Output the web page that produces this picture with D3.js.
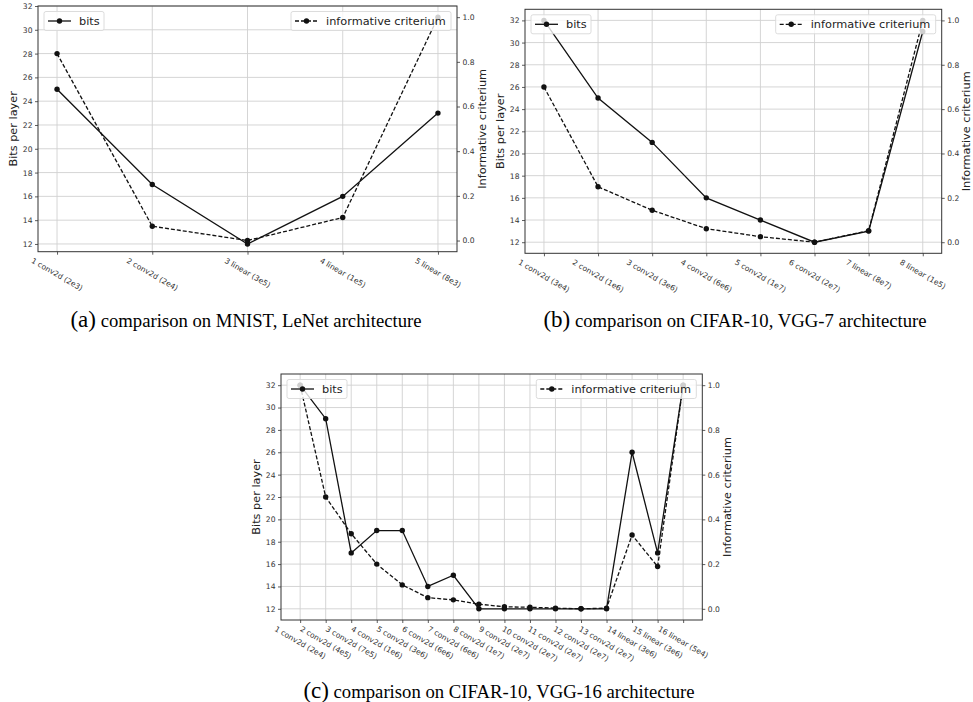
<!DOCTYPE html>
<html>
<head>
<meta charset="utf-8">
<script src="https://cdn.jsdelivr.net/npm/d3@7"></script>
<style>
  body { margin: 0; background: #fff; }
  svg { display: block; }
</style>
</head>
<body>
<div id="chart"></div>
<script>
// values
var labelsA = ["1 conv2d (2e3)", "2 conv2d (2e4)", "3 linear (3e5)", "4 linear (1e5)", "5 linear (8e3)"];
var bitsA = [25, 17, 12, 16, 23];
var critA = [0.837, 0.064, 0.0, 0.103, 1.0];

var labelsB = ["1 conv2d (3e4)", "2 conv2d (1e6)", "3 conv2d (3e6)", "4 conv2d (6e6)",
               "5 conv2d (1e7)", "6 conv2d (2e7)", "7 linear (8e7)", "8 linear (1e5)"];
var bitsB = [32, 25, 21, 16, 14, 12, 13, 31];
var critB = [0.70, 0.25, 0.144, 0.061, 0.025, 0.0, 0.052, 1.0];

var labelsC = ["1 conv2d (2e4)", "2 conv2d (4e5)", "3 conv2d (7e5)", "4 conv2d (1e6)",
               "5 conv2d (3e6)", "6 conv2d (6e6)", "7 conv2d (6e6)", "8 conv2d (1e7)",
               "9 conv2d (2e7)", "10 conv2d (2e7)", "11 conv2d (2e7)", "12 conv2d (2e7)",
               "13 conv2d (2e7)", "14 linear (3e6)", "15 linear (3e6)", "16 linear (5e4)"];
var bitsC = [32, 29, 17, 19, 19, 14, 15, 12, 12, 12, 12, 12, 12, 26, 17, 32];
var critC = [1.0, 0.5, 0.336, 0.2, 0.107, 0.05, 0.04, 0.021, 0.009, 0.007, 0.003, 0.0, 0.003, 0.33, 0.189, 1.0];

var bitsTicks = [12, 14, 16, 18, 20, 22, 24, 26, 28, 30, 32];
var critTicks = [0, 0.2, 0.4, 0.6, 0.8, 1.0];

var W = 973, H = 702;
var tickFont = 7.6, labelFont = 11.3;
var ink = "#111";

var svg = d3.select("#chart").append("svg")
    .attr("width", W)
    .attr("height", H)
    .style("font-family", "'DejaVu Sans', sans-serif");

function drawPanel(p) {
    var x = d3.scaleLinear().domain([-0.05 * (p.labels.length - 1), 1.05 * (p.labels.length - 1)])
        .range([p.left, p.right]);
    var yBits = d3.scaleLinear().domain(p.bitsDomain).range([p.bottom, p.top]);
    var yCrit = d3.scaleLinear().domain([-0.05, 1.05]).range([p.bottom, p.top]);
    var g = svg.append("g");
    var idx = d3.range(p.labels.length);

    //grid
    g.selectAll(".gx").data(idx).enter().append("line")
        .attr("x1", function(i){ return x(i); }).attr("x2", function(i){ return x(i); })
        .attr("y1", p.top).attr("y2", p.bottom)
        .attr("stroke", "#d0d0d0").attr("stroke-width", 0.9);
    g.selectAll(".gy").data(bitsTicks.filter(function(t){ return yBits(t) >= p.top - 0.5; }))
        .enter().append("line")
        .attr("x1", p.left).attr("x2", p.right)
        .attr("y1", function(t){ return yBits(t); }).attr("y2", function(t){ return yBits(t); })
        .attr("stroke", "#d0d0d0").attr("stroke-width", 0.9);

    //axes
    var left = d3.axisLeft(yBits).tickValues(bitsTicks).tickSize(3).tickPadding(2.5).tickFormat(d3.format("d"));
    var right = d3.axisRight(yCrit).tickValues(critTicks).tickSize(3).tickPadding(2.5).tickFormat(d3.format(".1f"));
    var bottom = d3.axisBottom(x).tickValues(idx).tickSize(3).tickFormat("");
    [[left, "translate(" + p.left + ",0)"], [right, "translate(" + p.right + ",0)"],
     [bottom, "translate(0," + p.bottom + ")"]].forEach(function(a){
        var ax = g.append("g").attr("transform", a[1]).call(a[0]);
        ax.select(".domain").remove();
        ax.selectAll("line").attr("stroke", "#333").attr("stroke-width", 0.8);
        ax.selectAll("text").attr("fill", "#333").style("font-size", tickFont + "px")
            .style("font-family", "'DejaVu Sans', sans-serif");
    });

    //rotated category labels
    g.selectAll(".xl").data(p.labels).enter().append("text")
        .attr("text-anchor", "middle")
        .attr("dominant-baseline", "central")
        .attr("fill", "#333")
        .style("font-size", tickFont + "px")
        .text(function(d){ return d; })
        .attr("transform", function(d, i){
            var len = this.getComputedTextLength();
            var bh = len * 0.5 + tickFont * 0.87;
            return "translate(" + x(i) + "," + (p.bottom + 5 + bh / 2) + ") rotate(30)";
        });

    //frame
    g.append("rect").attr("x", p.left).attr("y", p.top)
        .attr("width", p.right - p.left).attr("height", p.bottom - p.top)
        .attr("fill", "none").attr("stroke", "#333").attr("stroke-width", 1);

    //axis titles
    var cy = (p.top + p.bottom) / 2;
    g.append("text").attr("transform", "translate(" + (p.left - 25) + "," + cy + ") rotate(-90)")
        .attr("text-anchor", "middle").attr("dominant-baseline", "central")
        .style("font-size", labelFont + "px").attr("fill", "#222").text("Bits per layer");
    g.append("text").attr("transform", "translate(" + (p.right + 25) + "," + cy + ") rotate(-90)")
        .attr("text-anchor", "middle").attr("dominant-baseline", "central")
        .style("font-size", labelFont + "px").attr("fill", "#222").text("Informative criterium");

    //series
    var lineBits = d3.line().x(function(d, i){ return x(i); }).y(function(d){ return yBits(d); });
    var lineCrit = d3.line().x(function(d, i){ return x(i); }).y(function(d){ return yCrit(d); });
    g.append("path").attr("d", lineBits(p.bits)).attr("fill", "none")
        .attr("stroke", ink).attr("stroke-width", 1.3);
    g.selectAll(".mb").data(p.bits).enter().append("circle")
        .attr("cx", function(d, i){ return x(i); }).attr("cy", function(d){ return yBits(d); })
        .attr("r", 2.7).attr("fill", ink);
    g.append("path").attr("d", lineCrit(p.crit)).attr("fill", "none")
        .attr("stroke", ink).attr("stroke-width", 1.3).attr("stroke-dasharray", "4,2");
    g.selectAll(".mc").data(p.crit).enter().append("circle")
        .attr("cx", function(d, i){ return x(i); }).attr("cy", function(d){ return yCrit(d); })
        .attr("r", 2.7).attr("fill", ink);

    //legends
    function legend(lx, ly, w, label, dash) {
        var lg = g.append("g").attr("transform", "translate(" + lx + "," + ly + ")");
        lg.append("rect").attr("width", w).attr("height", 19).attr("rx", 2)
            .attr("fill", "#fff").attr("fill-opacity", 0.8)
            .attr("stroke", "#d8d8d8").attr("stroke-width", 0.9);
        lg.append("line").attr("x1", 4).attr("x2", 27).attr("y1", 9.5).attr("y2", 9.5)
            .attr("stroke", ink).attr("stroke-width", 1.3).attr("stroke-dasharray", dash);
        lg.append("circle").attr("cx", 15.5).attr("cy", 9.5).attr("r", 2.7).attr("fill", ink);
        lg.append("text").attr("x", 35).attr("y", 9.5).attr("dominant-baseline", "central")
            .style("font-size", labelFont + "px").attr("fill", "#222").text(label);
    }
    legend(p.left + 6, p.top + 5.5, 60, "bits", null);
    legend(p.right - 166, p.top + 5.5, 160, "informative criterium", "4,2");

    //caption
    var cap = svg.append("text").attr("x", p.capX).attr("y", p.capY)
        .attr("text-anchor", "middle").attr("fill", "#000")
        .style("font-family", "'Liberation Serif', 'Times New Roman', serif");
    cap.append("tspan").style("font-size", "23px").text(p.tag);
    cap.append("tspan").style("font-size", "18.7px").text(" " + p.caption);
}

drawPanel({labels: labelsA, bits: bitsA, crit: critA, bitsDomain: [11.35, 32],
    left: 38, right: 457, top: 6, bottom: 251.7,
    capX: 246, capY: 326.5, tag: "(a)", caption: "comparison on MNIST, LeNet architecture"});
drawPanel({labels: labelsB, bits: bitsB, crit: critB, bitsDomain: [11, 33],
    left: 525, right: 941.7, top: 9.3, bottom: 253.3,
    capX: 735, capY: 326.5, tag: "(b)", caption: "comparison on CIFAR-10, VGG-7 architecture"});
drawPanel({labels: labelsC, bits: bitsC, crit: critC, bitsDomain: [11, 33],
    left: 281, right: 702.3, top: 374, bottom: 620,
    capX: 499, capY: 698, tag: "(c)", caption: "comparison on CIFAR-10, VGG-16 architecture"});
</script>
</body>
</html>
